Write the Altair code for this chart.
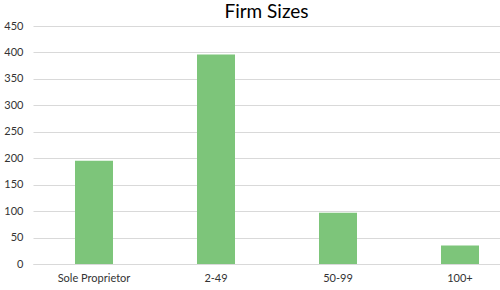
import altair as alt
import pandas as pd

categories = ["Sole Proprietor", "2-49", "50-99", "100+"]
values = [195, 396, 97, 35]
y_ticks = [0, 50, 100, 150, 200, 250, 300, 350, 400, 450]

df = pd.DataFrame({"size": categories, "count": values})

chart = (
    alt.Chart(df)
    .mark_bar(size=38, color="#7DC57A")
    .encode(
        x=alt.X(
            "size:N",
            sort=categories,
            scale=alt.Scale(paddingInner=0, paddingOuter=0, range=[0, 488]),
            axis=alt.Axis(
                title=None, labelAngle=0, ticks=False, domainColor="#D9D9D9",
                labelColor="#333333", labelFont="Lato", labelFontSize=11,
                labelPadding=8, grid=False,
            ),
        ),
        y=alt.Y(
            "count:Q",
            scale=alt.Scale(domain=[0, 450], nice=False),
            axis=alt.Axis(
                title=None, values=y_ticks, ticks=False, domain=False,
                gridColor="#D9D9D9", labelColor="#333333", labelFont="Lato",
                labelFontSize=11, labelPadding=10,
            ),
        ),
    )
    .properties(
        width=467,
        height=238,
        title=alt.TitleParams("Firm Sizes", font="Lato", fontSize=19,
                              fontWeight="normal", color="#000000", offset=8,
                              dy=10),
        autosize=alt.AutoSizeParams(type="none"),
        padding={"left": 33, "top": 26, "right": 0, "bottom": 26},
    )
    .configure_view(stroke=None)
)

chart.save("out.html", embed_options={"renderer": "svg", "actions": False})
